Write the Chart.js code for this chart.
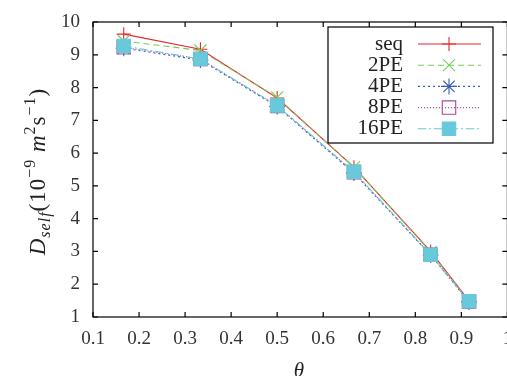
<!DOCTYPE html>
<html>
<head>
<meta charset="utf-8">
<script src="https://cdn.jsdelivr.net/npm/chart.js@4.4.0/dist/chart.umd.min.js"></script>
<style>
html, body { margin: 0; padding: 0; background: #fff; overflow: hidden; }
#wrap { width: 507px; height: 376px; overflow: hidden; }
</style>
</head>
<body>
<div id="wrap"><canvas id="dself" width="518" height="376"></canvas></div>
<script>
// D_self vs coverage theta, sequential run vs parallel runs

var theta = [0.1667, 0.3333, 0.5, 0.6667, 0.8333, 0.9167];

var seq  = [9.63, 9.17, 7.68, 5.57, 3.00, 1.49];
var pe2  = [9.42, 9.13, 7.70, 5.57, 2.98, 1.47];
var pe4  = [9.20, 8.84, 7.42, 5.39, 2.89, 1.46];
var pe8  = [9.23, 8.87, 7.44, 5.42, 2.90, 1.47];
var pe16 = [9.27, 8.87, 7.45, 5.43, 2.90, 1.48];

var labels = ['seq', '2PE', '4PE', '8PE', '16PE'];

var FONT = '"Liberation Serif", "Times New Roman", serif';

function pts(vals) {
    return vals.map(function(v, i) { return {x: theta[i], y: v}; });
}

var series = [
    {label: labels[0], data: pts(seq),  color: '#e8272b', dash: [],            pointStyle: 'cross',    radius: 7,   fill: false, order: 4},
    {label: labels[1], data: pts(pe2),  color: '#78cc5a', dash: [6, 4],        pointStyle: 'crossRot', radius: 8.5, fill: false, order: 3},
    {label: labels[2], data: pts(pe4),  color: '#3a5cb4', dash: [2, 3],        pointStyle: 'star',     radius: 8,   fill: false, order: 2},
    {label: labels[3], data: pts(pe8),  color: '#a5489c', dash: [1, 2],        pointStyle: 'rect',     radius: 9.5, fill: false, order: 1},
    {label: labels[4], data: pts(pe16), color: '#67c9da', dash: [8, 3, 2, 3],  pointStyle: 'rect',     radius: 9.5, fill: true,  order: 0},
];


// frame, inward ticks on all four sides, axis titles, legend box
var gnuplotLook = {
    id: 'gnuplotLook',
    afterDatasetsDraw: function(chart) {
        var ctx = chart.ctx;
        var a = chart.chartArea;
        var xs = chart.scales.x, ys = chart.scales.y;
        var tl = 5;

        ctx.save();
        ctx.strokeStyle = '#000';
        ctx.lineWidth = 1.2;
        ctx.setLineDash([]);
        ctx.strokeRect(a.left, a.top, a.right - a.left, a.bottom - a.top);

        ctx.beginPath();
        xs.ticks.forEach(function(t) {
            var px = xs.getPixelForValue(t.value);
            ctx.moveTo(px, a.bottom); ctx.lineTo(px, a.bottom - tl);
            ctx.moveTo(px, a.top);    ctx.lineTo(px, a.top + tl);
        });
        ys.ticks.forEach(function(t) {
            var py = ys.getPixelForValue(t.value);
            ctx.moveTo(a.left, py);  ctx.lineTo(a.left + tl, py);
            ctx.moveTo(a.right, py); ctx.lineTo(a.right - tl, py);
        });
        ctx.stroke();

        // x title
        ctx.fillStyle = '#222';
        ctx.font = 'italic 21px ' + FONT;
        ctx.textAlign = 'center';
        ctx.textBaseline = 'alphabetic';
        ctx.fillText('\u03b8', 299, 377);

        // y title with sub/superscripts
        var parts = [
            {t: 'D',    f: 'italic 23px ' + FONT, dy: 0},
            {t: 'self', f: 'italic 16px ' + FONT, dy: 5},
            {t: '(10',  f: '23px ' + FONT,        dy: 0},
            {t: '\u22129', f: '16px ' + FONT,     dy: -10},
            {t: ' m',   f: 'italic 23px ' + FONT, dy: 0},
            {t: '2',    f: '16px ' + FONT,        dy: -10},
            {t: 's',    f: '23px ' + FONT,        dy: 0},
            {t: '\u22121', f: '16px ' + FONT,     dy: -10},
            {t: ')',    f: '23px ' + FONT,        dy: 0},
        ];
        var total = 0, nch = 0;
        parts.forEach(function(p) { ctx.font = p.f; p.w = ctx.measureText(p.t).width; total += p.w; nch += p.t.length; });
        var gap = Math.min(1, Math.max(0, (180 - total) / (nch - 1)));
        var len = total + gap * (nch - 1);
        ctx.translate(45, 172);
        ctx.rotate(-Math.PI / 2);
        ctx.textAlign = 'left';
        var cx = -len / 2;
        parts.forEach(function(p) {
            ctx.font = p.f;
            for (var k = 0; k < p.t.length; k++) {
                var ch = p.t[k];
                ctx.fillText(ch, cx, p.dy);
                cx += ctx.measureText(ch).width + gap;
            }
        });
        ctx.restore();

        // legend
        ctx.save();
        ctx.fillStyle = '#fff';
        ctx.fillRect(328, 27, 165, 116);
        ctx.strokeStyle = '#000';
        ctx.lineWidth = 1.2;
        ctx.strokeRect(328, 27, 165, 116);
        ctx.font = '21px ' + FONT;
        ctx.textAlign = 'right';
        ctx.textBaseline = 'middle';
        series.forEach(function(s, i) {
            var y = 44 + i * 21.2;
            ctx.fillStyle = '#222';
            ctx.fillText(s.label, 403, y);
            ctx.strokeStyle = s.color;
            ctx.lineWidth = 1.1;
            ctx.setLineDash(s.dash);
            ctx.beginPath();
            ctx.moveTo(418, y); ctx.lineTo(481, y);
            ctx.stroke();
            ctx.setLineDash([]);
            ctx.fillStyle = s.fill ? s.color : 'rgba(0,0,0,0)';
            Chart.helpers.drawPoint(ctx, {pointStyle: s.pointStyle, radius: s.radius, rotation: 0, borderWidth: 1.1}, 449, y);
        });
        ctx.restore();
    }
};


var chart = new Chart(document.getElementById('dself').getContext('2d'), {
    type: 'scatter',
    data: {
        datasets: series.map(function(s) {
            return {
                label: s.label,
                data: s.data,
                showLine: true,
                borderColor: s.color,
                borderWidth: 1.1,
                borderDash: s.dash,
                pointStyle: s.pointStyle,
                pointRadius: s.radius,
                pointBorderWidth: 1.1,
                pointBorderColor: s.color,
                pointBackgroundColor: s.fill ? s.color : 'rgba(0,0,0,0)',
                order: s.order,
            };
        }),
    },
    options: {
        responsive: false,
        animation: false,
        layout: {padding: {top: 22, right: 1, left: 0, bottom: 0}},
        scales: {
            x: {
                type: 'linear',
                min: 0.1, max: 1,
                afterFit: function(s) { s.height = 59; s.paddingRight = 0; s.paddingLeft = 0; },
                grid: {display: false, drawTicks: false},
                border: {display: false},
                ticks: {
                    stepSize: 0.1, padding: 11, color: '#333', maxRotation: 0,
                    font: {family: FONT, size: 19},
                    callback: function(v) { return Math.abs(v - 1) < 1e-9 ? '1' : v.toFixed(1); },
                },
            },
            y: {
                min: 1, max: 10,
                afterFit: function(s) { s.width = 93; s.paddingTop = 0; s.paddingBottom = 0; },
                grid: {display: false, drawTicks: false},
                border: {display: false},
                ticks: {stepSize: 1, padding: 13, color: '#333', font: {family: FONT, size: 19}},
            },
        },
        plugins: {
            legend: {display: false},
            tooltip: {enabled: false},
        },
    },
    plugins: [gnuplotLook],
});
</script>
</body>
</html>
